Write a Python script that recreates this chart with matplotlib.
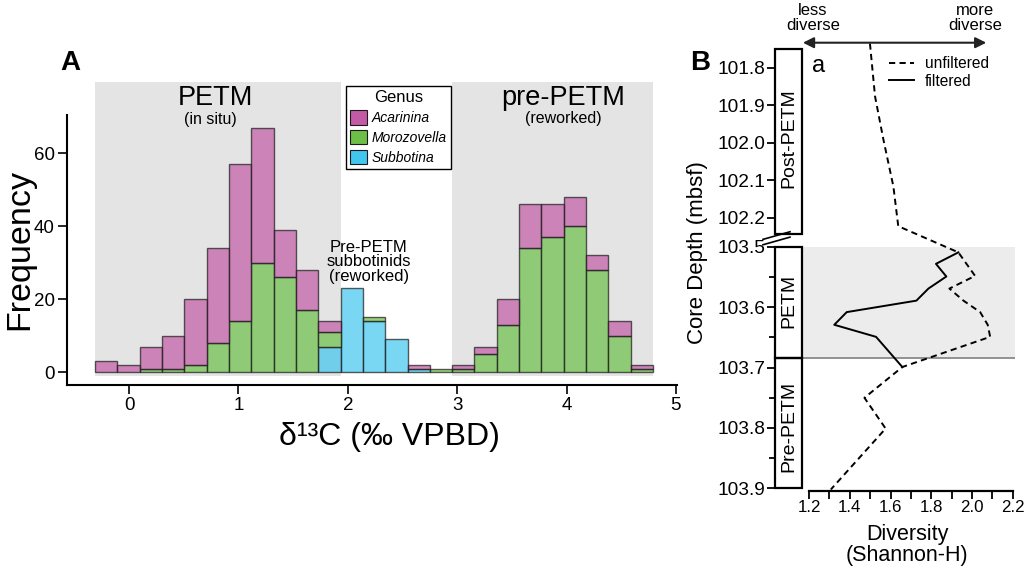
import numpy as np
import matplotlib
matplotlib.use("Agg")
import matplotlib.pyplot as plt
from matplotlib.patches import Patch, Rectangle
from matplotlib.lines import Line2D
from matplotlib.ticker import FixedLocator, FormatStrFormatter

plt.rcParams['font.family'] = ['Liberation Sans', 'DejaVu Sans']

# --- Panel A: d13C histogram, counts per bin (stacked) ---
acarinina = [3, 2, 6, 9, 18, 26, 43, 37, 13, 11, 3, 0, 0, 0, 1, 0, 1, 2, 7, 12, 9, 8, 4, 4, 1]
morozovella = [0, 0, 1, 1, 2, 8, 14, 30, 26, 17, 4, 0, 1, 0, 0, 1, 1, 5, 13, 34, 37, 40, 28, 10, 1]
subbotina = [0, 0, 0, 0, 0, 0, 0, 0, 0, 0, 7, 23, 14, 9, 1, 0, 0, 0, 0, 0, 0, 0, 0, 0, 0]
bin_start = -0.31
bin_width = 0.204
genus_names = ["Acarinina", "Morozovella", "Subbotina"]
genus_colors = ["#c25aa6", "#6cbf47", "#41c6ef"]

# --- Panel B: Shannon-H diversity vs core depth (mbsf) ---
unf_depth = [101.735, 101.876, 101.991, 102.116, 102.222, 103.509, 103.548, 103.569,
             103.589, 103.608, 103.629, 103.649, 103.699, 103.750, 103.801, 103.902]
unf_h = [1.499, 1.524, 1.565, 1.614, 1.638, 1.933, 2.015, 1.889,
         1.958, 2.04, 2.077, 2.089, 1.658, 1.472, 1.576, 1.307]
filt_depth = [103.509, 103.528, 103.549, 103.569, 103.589, 103.608, 103.629, 103.649, 103.699]
filt_h = [1.933, 1.823, 1.874, 1.786, 1.727, 1.385, 1.324, 1.529, 1.658]
petm_top, petm_base = 103.5, 103.684

fig = plt.figure(figsize=(10.24, 5.66), dpi=100)

# ---------------- Panel A ----------------
ax = fig.add_axes([66.7 / 1024, 1 - 385 / 566, (677 - 66.7) / 1024, (385 - 82) / 566])
ax.set_xlim(-0.57, 5.01)
ax.set_ylim(-3.5, 79.5)

edges = bin_start + bin_width * np.arange(len(acarinina) + 1)
lefts = edges[:-1]
sub = np.array(subbotina)
mor = np.array(morozovella)
aca = np.array(acarinina)

# grey background boxes (in situ PETM / reworked pre-PETM)
ax.add_patch(Rectangle((edges[0], -1), edges[11] - edges[0], 90, color="#e4e4e4", lw=0, zorder=0))
ax.add_patch(Rectangle((edges[16], -1), edges[25] - edges[16], 90, color="#e4e4e4", lw=0, zorder=0))

bottoms = np.zeros(len(lefts))
for vals, col in [(sub, genus_colors[2]), (mor, genus_colors[1]), (aca, genus_colors[0])]:
    m = vals > 0
    ax.bar(lefts[m], vals[m], width=bin_width, bottom=bottoms[m], align="edge",
           color=col, alpha=0.7, edgecolor="#1a1a1a", linewidth=1.0, zorder=2)
    bottoms = bottoms + vals

for s in ["top", "right"]:
    ax.spines[s].set_visible(False)
ax.spines["left"].set_bounds(-3.5, 70.4)
ax.spines["left"].set_linewidth(1.5)
ax.spines["bottom"].set_linewidth(1.5)
ax.set_yticks([0, 20, 40, 60])
ax.set_xticks([0, 1, 2, 3, 4, 5])
ax.tick_params(length=6.5, width=1.2, labelsize=13.5, pad=2)

ax.text(0.79, 73.2, "PETM", fontsize=19.5, ha="center", va="baseline")
ax.text(0.74, 68.0, "(in situ)", fontsize=11.5, ha="center", va="baseline")
ax.text(3.97, 73.2, "pre-PETM", fontsize=19.5, ha="center", va="baseline")
ax.text(3.97, 68.2, "(reworked)", fontsize=11.5, ha="center", va="baseline")
ax.text(2.19, 30.2, "Pre-PETM\nsubbotinids\n(reworked)", fontsize=12,
        ha="center", va="center", linespacing=0.92)

handles = [Patch(facecolor=c, edgecolor="#1a1a1a", linewidth=0.8) for c in genus_colors]
leg = ax.legend(handles, genus_names, title="Genus", loc="upper left",
                bbox_to_anchor=(345.7 / 1024, 1 - 86 / 566), bbox_transform=fig.transFigure,
                borderaxespad=0, borderpad=0.3, prop={"style": "italic", "size": 10},
                title_fontsize=12, handlelength=1.22, handleheight=1.22,
                handletextpad=0.35, labelspacing=0.36, fancybox=False, framealpha=1)
leg.get_frame().set_edgecolor("black")
leg.get_frame().set_linewidth(1.0)

fig.text(20 / 1024, 1 - 249 / 566, "Frequency", rotation=90, fontsize=24.5, ha="center", va="center")
fig.text(389 / 1024, 1 - 437 / 566, "δ¹³C (‰ VPBD)", fontsize=23, ha="center", va="center")
fig.text(70 / 1024, 1 - 63 / 566, "A", fontsize=20, fontweight="bold", ha="center", va="center")

# ---------------- Panel B ----------------
brk_d = [100.0, 101.8, 102.245, 103.5, 105.0]
brk_p = [68.3 - 1.8 * 375, 68.3, 68.3 + 0.445 * 375, 247.3, 247.3 + 1.5 * 603]


def depth_fwd(d):
    return np.interp(d, brk_d, brk_p)


def depth_inv(p):
    return np.interp(p, brk_p, brk_d)


ax2 = fig.add_axes([775 / 1024, 1 - 490.7 / 566, 240 / 1024, (490.7 - 42.7) / 566])
ax2.set_yscale("function", functions=(depth_fwd, depth_inv))
ax2.set_ylim(103.904, 101.733)
ax2.set_xlim(1.033, 2.211)
strip_w = 0.1125

ax2.axhspan(petm_top, petm_base, xmin=strip_w, xmax=1, color="#ececec", lw=0, zorder=0)
ax2.axhline(petm_base, xmin=strip_w, xmax=1, color="#8a8a8a", lw=1.3, zorder=1)

ax2.plot(unf_h, unf_depth, color="black", lw=1.4, ls=(0, (3.2, 2.2)), clip_on=False, zorder=3)
ax2.plot(filt_h, filt_depth, color="black", lw=1.4, clip_on=False, zorder=3)

ytr = ax2.get_yaxis_transform()
for y0, y1 in [(101.749, 102.243), (petm_top, petm_base), (petm_base, 103.9)]:
    ax2.add_patch(Rectangle((0, y0), strip_w, y1 - y0, transform=ytr, fill=False,
                            ec="black", lw=1.6, clip_on=False, zorder=4))
ax2.text(strip_w / 2, 101.986, "Post-PETM", transform=ytr, rotation=90, fontsize=14,
         ha="center", va="center")
ax2.text(strip_w / 2, 103.589, "PETM", transform=ytr, rotation=90, fontsize=14,
         ha="center", va="center")
ax2.text(strip_w / 2, 103.797, "Pre-PETM", transform=ytr, rotation=90, fontsize=14,
         ha="center", va="center")

# axis break marks
for dy in [0.0, 0.012]:
    ax2.plot([-0.05, 0.0625], [0.561 - dy, 0.578 - dy], transform=ax2.transAxes,
             color="black", lw=1.2, clip_on=False)

for s in ["top", "right", "left"]:
    ax2.spines[s].set_visible(False)
ax2.spines["bottom"].set_bounds(1.2, 2.2)
ax2.spines["bottom"].set_linewidth(1.6)

ax2.yaxis.set_major_locator(FixedLocator([101.8, 101.9, 102.0, 102.1, 102.2,
                                          103.5, 103.6, 103.7, 103.8, 103.9]))
ax2.yaxis.set_minor_locator(FixedLocator([103.55, 103.65, 103.75, 103.85]))
ax2.yaxis.set_major_formatter(FormatStrFormatter("%.1f"))
ax2.yaxis.set_minor_formatter(FormatStrFormatter(""))
ax2.xaxis.set_major_locator(FixedLocator([1.2, 1.4, 1.6, 1.8, 2.0, 2.2]))
ax2.xaxis.set_minor_locator(FixedLocator([1.3, 1.5, 1.7, 1.9, 2.1]))
ax2.xaxis.set_major_formatter(FormatStrFormatter("%.1f"))
ax2.tick_params(axis="y", which="major", length=6, width=1.3, labelsize=13.8, pad=1)
ax2.tick_params(axis="y", which="minor", length=4, width=1.3)
ax2.tick_params(axis="x", which="both", length=5.5, width=1.3, labelsize=12.2, pad=1.5)

ax2.text(1.215, 101.795, "a", fontsize=17, ha="left", va="center")

ax2.annotate("", xy=(2.07, 101.733), xytext=(1.17, 101.733),
             arrowprops=dict(arrowstyle="<|-|>", lw=1.5, color="#222222", mutation_scale=16,
                             shrinkA=0, shrinkB=0), annotation_clip=False)
fig.text(813 / 1024, 1 - 18 / 566, "less\ndiverse", fontsize=12, ha="center", va="center",
         linespacing=0.95)
fig.text(975 / 1024, 1 - 18 / 566, "more\ndiverse", fontsize=12, ha="center", va="center",
         linespacing=0.95)

lh = [Line2D([], [], color="black", lw=1.4, ls=(0, (3.2, 2.2))),
      Line2D([], [], color="black", lw=1.4)]
ax2.legend(lh, ["unfiltered", "filtered"], loc="center left", frameon=False,
           bbox_to_anchor=(889 / 1024, 1 - 72.5 / 566), bbox_transform=fig.transFigure,
           borderpad=0, borderaxespad=0, fontsize=11.2, handlelength=1.6,
           handletextpad=0.7, labelspacing=0.15)

fig.text(697 / 1024, 1 - 253 / 566, "Core Depth (mbsf)", rotation=90, fontsize=16,
         ha="center", va="center")
fig.text(907 / 1024, 1 - 545 / 566, "Diversity\n(Shannon-H)", fontsize=15.5, ha="center",
         va="center", linespacing=0.95)
fig.text(700 / 1024, 1 - 63 / 566, "B", fontsize=20, fontweight="bold", ha="center", va="center")

fig.savefig("out.png", dpi=100)
